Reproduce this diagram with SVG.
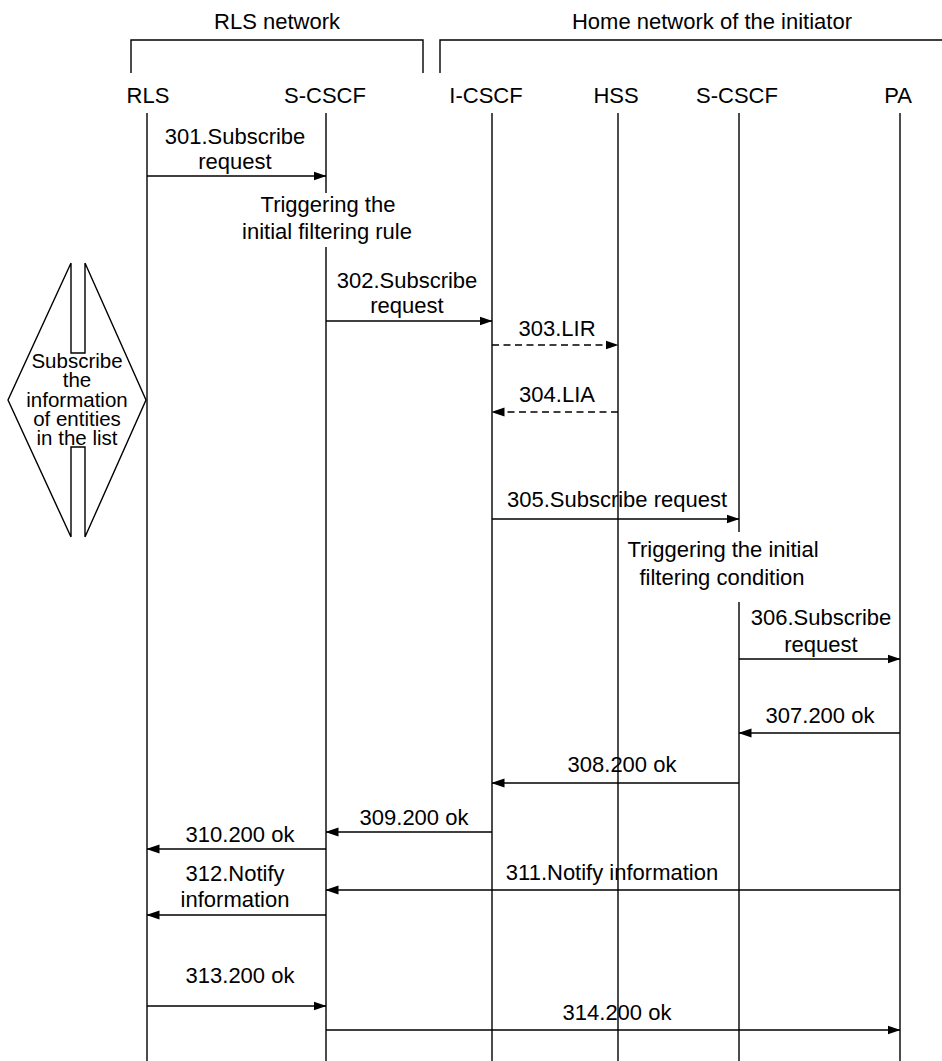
<svg xmlns="http://www.w3.org/2000/svg" width="942" height="1061" viewBox="0 0 942 1061">
<style>
text{font-family:"Liberation Sans",Arial,sans-serif;font-size:22px;fill:#000;text-anchor:middle}
.dt{font-size:20.5px}
.ll{stroke:#000;stroke-width:1.4;fill:none}
.msg{stroke:#000;stroke-width:1.4;fill:none;marker-end:url(#ah)}
.dash{stroke-dasharray:7,4.5}
.sh{stroke:#000;stroke-width:1.4;fill:none}
</style>
<defs>
<marker id="ah" markerWidth="13" markerHeight="10" refX="12.5" refY="5" orient="auto" markerUnits="userSpaceOnUse">
<path d="M0,0.5 L13,5 L0,9.5 z" fill="#000" stroke="none"/>
</marker>
</defs>
<rect width="942" height="1061" fill="#fff"/>
<g id="rls-network">
<text x="277" y="29">RLS network</text>
<path class="sh" d="M131,73 V40 H423 V73"/>
</g>
<g id="home-network">
<text x="712" y="29">Home network of the initiator</text>
<path class="sh" d="M440,73 V40 H942"/>
</g>
<g id="rls"><text x="148" y="103">RLS</text><line class="ll" x1="147" y1="113" x2="147" y2="1061"/></g>
<g id="scscf1"><text x="325" y="103">S-CSCF</text><path class="ll" d="M326,113 V193 M326,247 V1061"/></g>
<g id="icscf"><text x="486" y="103">I-CSCF</text><line class="ll" x1="492" y1="113" x2="492" y2="1061"/></g>
<g id="hss"><text x="616" y="103">HSS</text><line class="ll" x1="618" y1="113" x2="618" y2="1061"/></g>
<g id="scscf2"><text x="737" y="103">S-CSCF</text><path class="ll" d="M739,113 V532 M739,602 V1061"/></g>
<g id="pa"><text x="898" y="103">PA</text><line class="ll" x1="900" y1="113" x2="900" y2="1061"/></g>
<g id="note-rule"><text x="328" y="212">Triggering the</text><text x="327" y="239">initial filtering rule</text></g>
<g id="note-condition"><text x="723" y="557">Triggering the initial</text><text x="722" y="585">filtering condition</text></g>
<g id="subscribe-list">
<path class="sh" d="M71,263 L8,400 L71,537 M85,263 L146,400 L85,537 M71,263 V353 H85 V263 M71,537 V447 H85 V537"/>
<text class="dt" x="77" y="368">Subscribe</text>
<text class="dt" x="77" y="387">the</text>
<text class="dt" x="77" y="407">information</text>
<text class="dt" x="77" y="426">of entities</text>
<text class="dt" x="77" y="445">in the list</text>
</g>
<g id="connectors">
<line class="msg" x1="147" y1="176" x2="326" y2="176"/>
<line class="msg" x1="326" y1="321" x2="492" y2="321"/>
<line class="msg dash" x1="492" y1="345" x2="618" y2="345"/>
<line class="msg dash" x1="618" y1="412" x2="492" y2="412"/>
<line class="msg" x1="492" y1="519" x2="739" y2="519"/>
<line class="msg" x1="739" y1="659" x2="900" y2="659"/>
<line class="msg" x1="900" y1="733" x2="739" y2="733"/>
<line class="msg" x1="739" y1="783" x2="492" y2="783"/>
<line class="msg" x1="492" y1="832" x2="326" y2="832"/>
<line class="msg" x1="326" y1="849" x2="147" y2="849"/>
<line class="msg" x1="900" y1="890" x2="326" y2="890"/>
<line class="msg" x1="326" y1="915" x2="147" y2="915"/>
<line class="msg" x1="147" y1="1006" x2="326" y2="1006"/>
<line class="msg" x1="326" y1="1030" x2="900" y2="1030"/>
</g>
<g id="labels">
<text x="235" y="144">301.Subscribe</text><text x="235" y="169">request</text>
<text x="407" y="288">302.Subscribe</text><text x="407" y="313">request</text>
<text x="557" y="336">303.LIR</text>
<text x="557" y="402">304.LIA</text>
<text x="617" y="507">305.Subscribe request</text>
<text x="821" y="625">306.Subscribe</text><text x="821" y="652">request</text>
<text x="820" y="723">307.200 ok</text>
<text x="622" y="772">308.200 ok</text>
<text x="414" y="825">309.200 ok</text>
<text x="240" y="842">310.200 ok</text>
<text x="612" y="880">311.Notify information</text>
<text x="235" y="881">312.Notify</text><text x="235" y="907">information</text>
<text x="240" y="983">313.200 ok</text>
<text x="617" y="1020">314.200 ok</text>
</g>
</svg>
